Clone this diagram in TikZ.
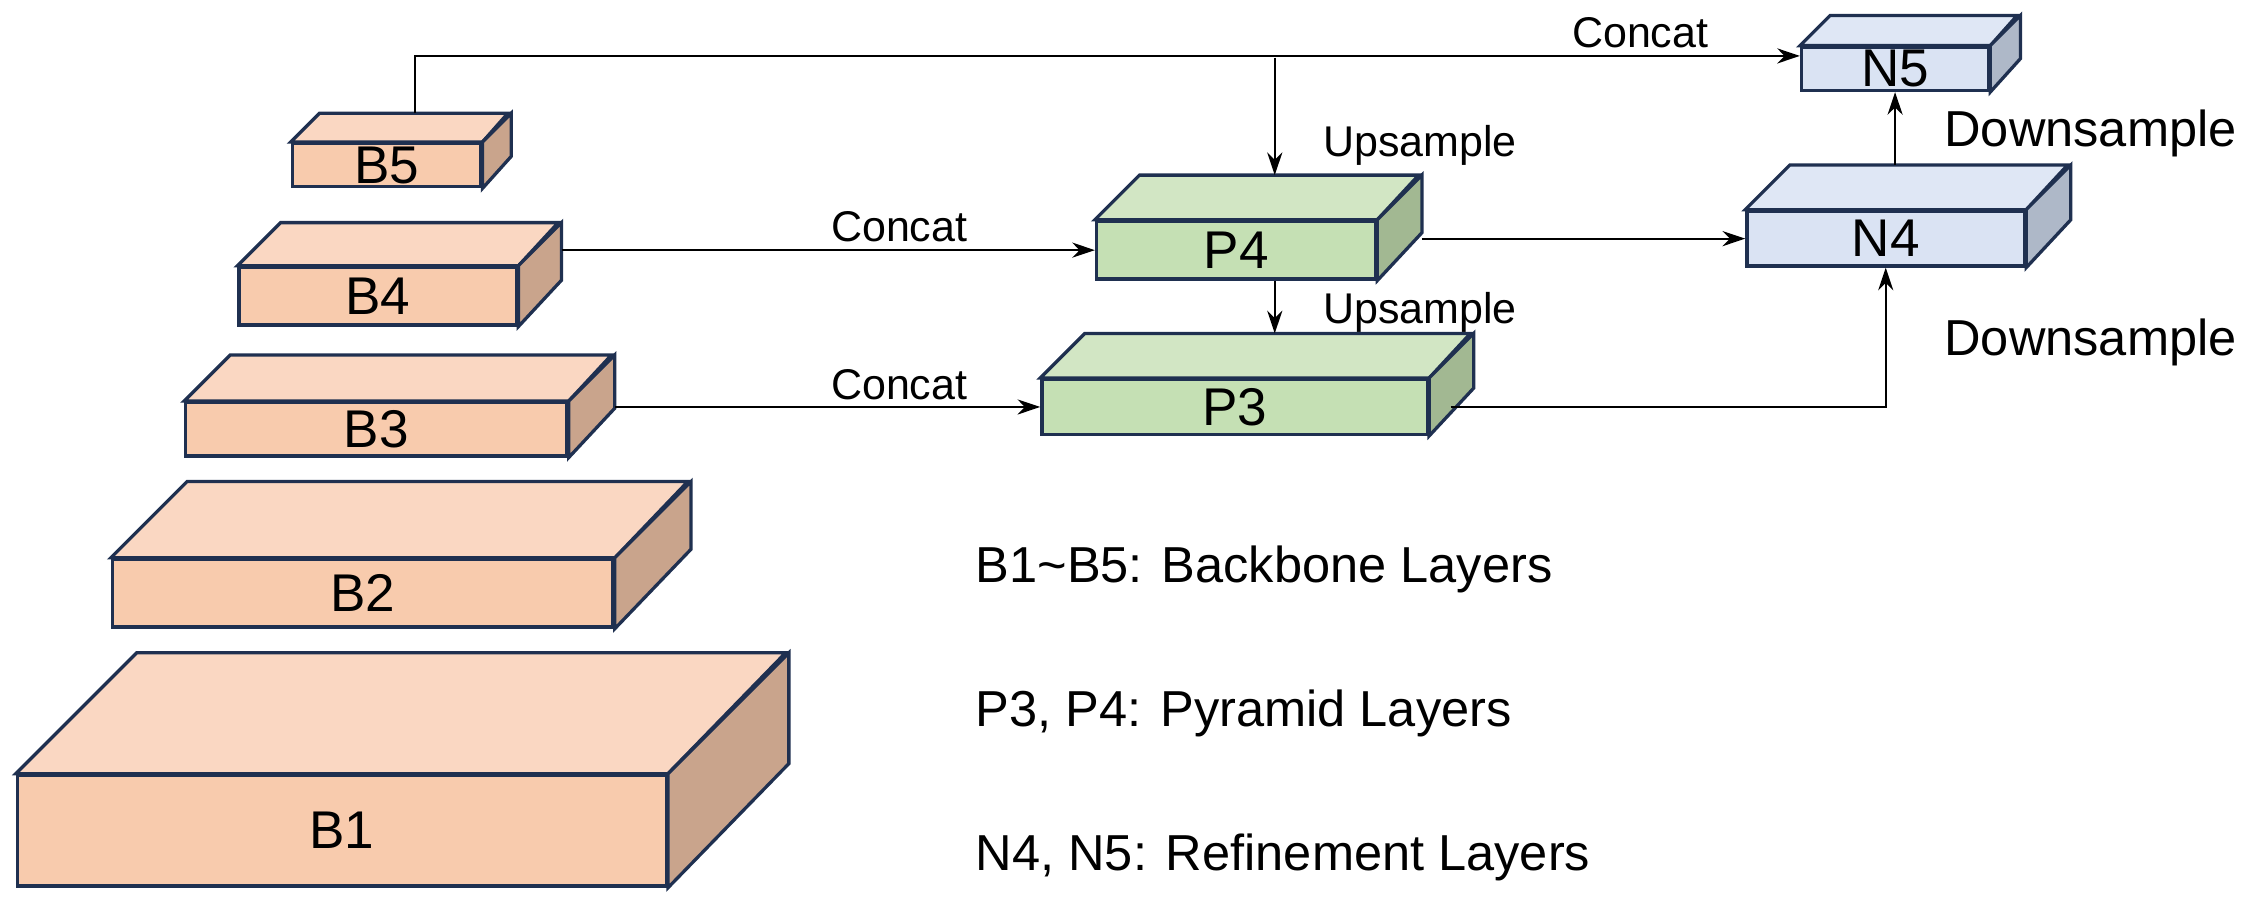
\documentclass[tikz,border=0pt]{standalone}
\usepackage{fontspec}
\setmainfont{Liberation Sans}
\usetikzlibrary{calc,arrows.meta}
\definecolor{edge}{HTML}{1F3050}
\definecolor{Bfront}{HTML}{F8CBAD}\definecolor{Btop}{HTML}{FAD7C2}\definecolor{Bside}{HTML}{C9A48C}
\definecolor{Pfront}{HTML}{C5E0B4}\definecolor{Ptop}{HTML}{D2E6C4}\definecolor{Pside}{HTML}{A2B892}
\definecolor{Nfront}{HTML}{DAE3F3}\definecolor{Ntop}{HTML}{DFE7F5}\definecolor{Nside}{HTML}{AEB8C8}
\tikzstyle{Face}=[draw=edge, line width=1.3pt, line join=miter]
\tikzstyle{Front}=[Face, inner sep=0pt, anchor=south west, font=\fontsize{21}{21}\selectfont]
\tikzstyle{Conn}=[-{Stealth[length=9pt,width=6pt]}, line width=0.7pt]
\tikzstyle{Lbl}=[font=\fontsize{17}{17}\selectfont, anchor=base]
\tikzstyle{Legend}=[font=\fontsize{20}{20}\selectfont, anchor=west]
% name, x, y bottom, width, height, depth, colour, label
\newcommand\layer[8]{
\node[Front, fill=#7front, minimum width=#4*0.02cm, minimum height=#5*0.02cm] (#1) at (#2,-#3) {#8};
\draw[Face, fill=#7top] (#1.north west) -- ++(#6,#6) -- ++(#4,0) -- (#1.north east) -- cycle;
\draw[Face, fill=#7side] (#1.north east) -- ++(#6,#6) -- ++(0,-#5) -- (#1.south east) -- cycle;
\coordinate (#1-edge) at ($(#1.east)+(#6,0)$);
\coordinate (#1-back) at ($(#1.north)+(#6,#6)$);
}
\begin{document}
\begin{tikzpicture}[x=0.02cm, y=0.02cm]
\useasboundingbox (0,0) rectangle (1568,-623);

\layer{B5}{202}{131}{131}{30}{20}{B}{B5}
\layer{B4}{165}{227}{193}{40}{30}{B}{B4}
\layer{B3}{128}{318}{265}{37}{32}{B}{B3}
\layer{B2}{77}{437}{348}{47}{53}{B}{B2}
\layer{B1}{11}{617}{451}{77}{84}{B}{B1}
\layer{P4}{761}{195}{194}{40}{31}{P}{P4}
\layer{P3}{723}{303}{268}{38}{31}{P}{P3}
\layer{N5}{1251}{64}{130}{30}{21}{N}{N5}
\layer{N4}{1213}{186}{193}{38}{31}{N}{N4}

\coordinate (split) at (886,-40);

\draw[Conn] (B5-back) |- ([yshift=0.18cm]N5.west);
\draw[Conn] (split) -- (split |- P4-back);
\draw[Conn] (B4-edge |- P4.west) -- (P4.west);
\draw[Conn] (split |- P4.south) -- (split |- P3-back);
\draw[Conn] (B3-edge |- P3.west) -- (P3.west);
\draw[Conn] (P4-edge |- N4.west) -- (N4.west);
\draw[Conn] ([xshift=0.3cm]P3.east) -| (N4.south);
\draw[Conn] (N5.south |- N4-back) -- (N5.south);

\node[Lbl] (c1) at (1140,-33) {Concat};
\node[Lbl] (c2) at (625,-168) {Concat};
\node[Lbl] (c3) at (625,-278) {Concat};
\node[Lbl] (u1) at (987,-109) {Upsample};
\node[Lbl] (u2) at (987,-225) {Upsample};
\node[Lbl, font=\fontsize{20}{20}\selectfont] (d1) at (1453,-102) {Downsample};
\node[Lbl, font=\fontsize{20}{20}\selectfont] (d2) at (1453,-247) {Downsample};

\node[Legend] (l1) at (672,-396) {B1\textasciitilde B5: Backbone Layers};
\node[Legend] (l2) at (672,-496) {P3, P4: Pyramid Layers};
\node[Legend] (l3) at (672,-596) {N4, N5: Refinement Layers};
\end{tikzpicture}
\end{document}
